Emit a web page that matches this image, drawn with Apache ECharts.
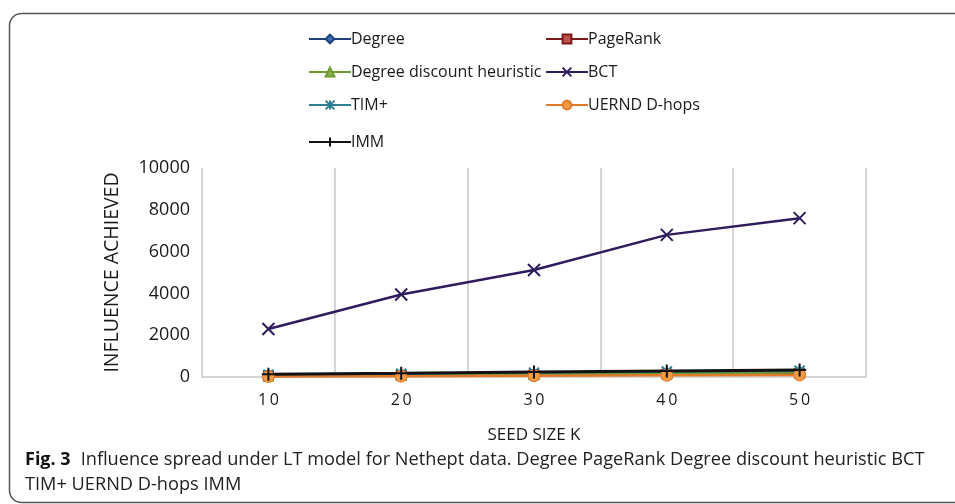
<!DOCTYPE html>
<html><head><meta charset="utf-8">
<script src="https://cdn.jsdelivr.net/npm/echarts@6/dist/echarts.min.js"></script>
<style>html,body{margin:0;padding:0;background:#fff}#c{width:955px;height:504px}</style>
</head><body><div id="c"></div>
<script>
const categories = ['10', '20', '30', '40', '50'];
const degree = [60, 90, 130, 160, 200];
const pageRank = [50, 80, 110, 140, 170];
const degreeDiscount = [70, 100, 140, 180, 220];
const bct = [2300, 3950, 5120, 6800, 7600];
const timPlus = [110, 160, 210, 260, 300];
const uernd = [20, 40, 60, 80, 100];
const imm = [130, 180, 240, 290, 340];
const yTicks = [0, 2000, 4000, 6000, 8000, 10000];

const X_PATH = 'path://M0,0 L10,10 M10,0 L0,10';
const STAR_PATH = 'path://M0,0 L10,10 M10,0 L0,10 M5,0 L5,10';
const PLUS_PATH = 'path://M5,0 L5,10 M0,5 L10,5';

const FONT = 'Open Sans';
const seriesDefs = [
  {name: 'Degree', data: degree, line: '#1f3f7a', fill: '#3f6fb5', symbol: 'diamond', size: 11},
  {name: 'PageRank', data: pageRank, line: '#7a1a1a', fill: '#c0504d', symbol: 'rect', size: 10},
  {name: 'Degree discount heuristic', data: degreeDiscount, line: '#6f9a32', fill: '#8db04c', symbol: 'triangle', size: 11},
  {name: 'BCT', data: bct, line: '#2e1c5c', fill: '#2e1c5c', symbol: X_PATH, size: 12, stroke: true},
  {name: 'TIM+', data: timPlus, line: '#2f7f93', fill: '#2f7f93', symbol: STAR_PATH, size: 10, stroke: true},
  {name: 'UERND D-hops', data: uernd, line: '#e0792a', fill: '#f39a45', symbol: 'circle', size: 12},
  {name: 'IMM', data: imm, line: '#111111', fill: '#111111', symbol: PLUS_PATH, size: 13, stroke: true}
];

const series = seriesDefs.map(d => ({
  name: d.name, type: 'line', data: d.data,
  symbol: d.symbol, symbolSize: d.size,
  lineStyle: {color: d.line, width: d.name === 'IMM' ? 3 : 2.5},
  itemStyle: d.stroke ? {color: d.line, borderColor: d.line, borderWidth: 2}
                      : {color: d.fill, borderColor: d.line, borderWidth: 1},
  emphasis: {disabled: true}, animation: false
}));

// legend positions (two columns)
const legendPos = {
  'Degree': [303, 26], 'PageRank': [540, 26],
  'Degree discount heuristic': [303, 59], 'BCT': [540, 59],
  'TIM+': [303, 92], 'UERND D-hops': [540, 92],
  'IMM': [303, 129]
};
const legends = seriesDefs.map(d => ({
  data: [d.name], left: legendPos[d.name][0], top: legendPos[d.name][1],
  itemWidth: 42, itemHeight: 11, itemGap: 4, selectedMode: false,
  textStyle: {fontFamily: FONT, fontSize: 16, color: '#1a1a1a', padding: [0, 0, 0, -5]}
}));

const chart = echarts.init(document.getElementById('c'), null, {renderer: 'canvas'});
chart.setOption({
  animation: false,
  backgroundColor: '#fff',
  legend: legends,
  grid: {left: 202, right: 89, top: 168, bottom: 127},
  xAxis: {
    type: 'category', data: categories, boundaryGap: true,
    name: 'SEED SIZE K', nameLocation: 'middle', nameGap: 50,
    nameTextStyle: {fontFamily: FONT, fontSize: 17, color: '#1a1a1a'},
    axisLine: {lineStyle: {color: '#c8c8c8', width: 1.5}},
    axisTick: {show: false},
    axisLabel: {fontFamily: FONT, fontSize: 16, color: '#1a1a1a', margin: 15,
      formatter: v => v.split('').join('\u2009')},
    splitLine: {show: true, lineStyle: {color: '#c8c8c8', width: 1.5}}
  },
  yAxis: {
    type: 'value', min: yTicks[0], max: yTicks[yTicks.length - 1], interval: 2000,
    name: 'INFLUENCE ACHIEVED', nameLocation: 'middle', nameGap: 80, nameRotate: 90,
    nameTextStyle: {fontFamily: FONT, fontSize: 19.5, color: '#1a1a1a'},
    axisLine: {show: false}, axisTick: {show: false},
    axisLabel: {fontFamily: FONT, fontSize: 18, color: '#1a1a1a', margin: 12,
      formatter: v => String(v)},
    splitLine: {show: false}
  },
  title: {
    left: 20, top: 442,
    text: '{b|Fig. 3}  {n|Influence spread under LT model for Nethept data. Degree PageRank Degree discount heuristic BCT}\n{n|TIM+ UERND D-hops IMM}',
    textStyle: {
      fontWeight: 'normal',
      rich: {
        b: {fontFamily: FONT, fontWeight: 'bold', fontSize: 18, color: '#111', lineHeight: 25},
        n: {fontFamily: FONT, fontWeight: 'normal', fontSize: 18.2, color: '#222', lineHeight: 25}
      }
    }
  },
  graphic: [{
    type: 'rect', left: 7, top: 11, z: -10,
    shape: {width: 975, height: 489, r: 12},
    style: {fill: 'none', stroke: '#555', lineWidth: 1.5}
  }],
  series: series
});
</script>
</body></html>
